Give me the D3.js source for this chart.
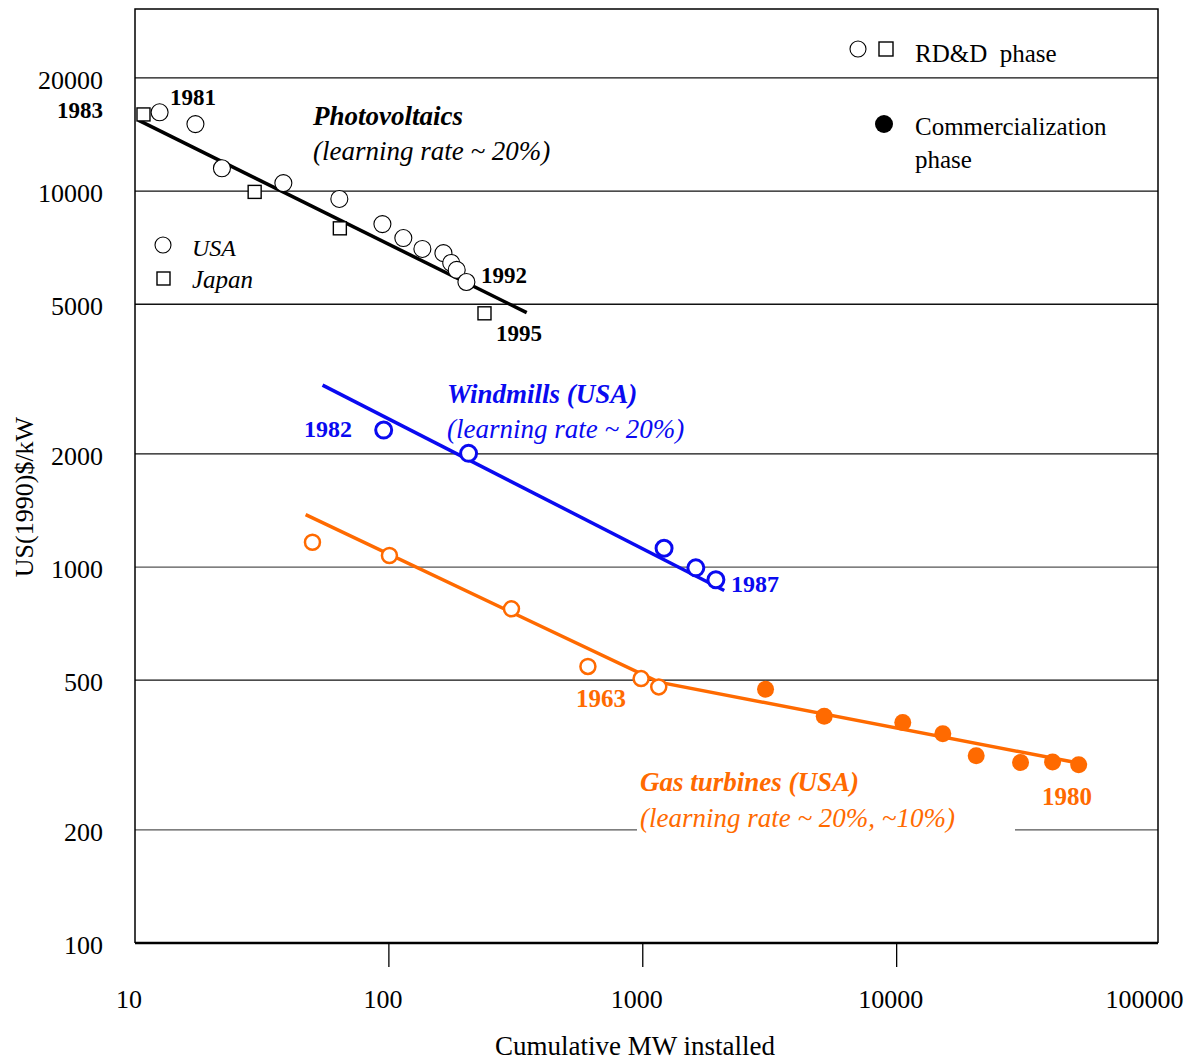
<!DOCTYPE html>
<html>
<head>
<meta charset="utf-8">
<script src="https://cdn.jsdelivr.net/npm/d3@7"></script>
<style>
  body { margin: 0; background: #fff; }
  text { font-family: "Liberation Serif", "Times New Roman", serif; }
</style>
</head>
<body>
<div id="chart"></div>
<script>
// Learning curves: cost per kW vs cumulative installed capacity (log-log)

// axis ticks
var xTicks = [10, 100, 1000, 10000, 100000];
var yTicks = [100, 200, 500, 1000, 2000, 5000, 10000, 20000];

// Photovoltaics, USA (open circles) and Japan (open squares)
var pvUsaMW   = [12.5, 17.3, 22.0, 38.4, 63.8, 94.3, 114, 135.5, 164, 176, 185, 202];
var pvUsaCost = [16200, 15070, 11500, 10500, 9530, 8170, 7500, 7015, 6840, 6440, 6170, 5730];
var pvJapanMW   = [10.8, 29.6, 64.1, 238];
var pvJapanCost = [15990, 9950, 7960, 4730];
var pvFitMW   = [10.3, 349];
var pvFitCost = [15440, 4750];

// Windmills (USA)
var windMW   = [95.4, 206, 1213, 1618, 1941];
var windCost = [2314, 2006, 1122, 995, 925];
var windFitMW   = [54.8, 2093];
var windFitCost = [3048, 866];

// Gas turbines (USA): RD&D phase (open) then commercialization (filled)
var gasRddMW   = [50, 100.5, 304, 608, 985, 1156];
var gasRddCost = [1164, 1073, 774, 544, 505, 480];
var gasComMW   = [3045, 5185, 10570, 15200, 20570, 30760, 41130, 52120];
var gasComCost = [473, 401, 386, 360, 315, 302, 303, 298];
var gasFitMW   = [47, 1156, 52000];
var gasFitCost = [1379, 494, 301];

var blue = "#0a0af0", orange = "#ff6a00";

var W = 1187, H = 1060;
var plotL = 135, plotR = 1158, plotT = 9, plotB = 943;

var svg = d3.select("#chart").append("svg")
    .attr("width", W)
    .attr("height", H);

var x = d3.scaleLog().domain([10, 107000]).range([plotL, plotR]);
var y = d3.scaleLog().domain([100, 30500]).range([plotB, plotT]);

function zip(a, b){ return a.map(function(d, i){ return [d, b[i]]; }); }

// gridlines
svg.append("g").selectAll("line")
    .data(yTicks.slice(1))
    .enter().append("line")
    .attr("x1", plotL).attr("x2", plotR)
    .attr("y1", function(d){ return y(d); })
    .attr("y2", function(d){ return y(d); })
    .attr("stroke", function(d){ return (d == 1000 || d == 200) ? "#555" : "#111"; })
    .attr("stroke-width", 1.3);

// frame
svg.append("path")
    .attr("d", "M" + plotL + "," + plotB + "V" + plotT + "H" + plotR + "V" + plotB)
    .attr("fill", "none")
    .attr("stroke", "#000")
    .attr("stroke-width", 1.5);
svg.append("line")
    .attr("x1", plotL).attr("x2", plotR)
    .attr("y1", plotB).attr("y2", plotB)
    .attr("stroke", "#000").attr("stroke-width", 2.5);

// y labels
svg.append("g").selectAll("text")
    .data(yTicks)
    .enter().append("text")
    .attr("x", 103)
    .attr("y", function(d){ return y(d) + 11; })
    .attr("text-anchor", "end")
    .attr("font-size", "26px")
    .text(function(d){ return d; });

// x ticks + labels
svg.append("g").selectAll("line")
    .data(xTicks.slice(1, 4))
    .enter().append("line")
    .attr("x1", function(d){ return x(d); })
    .attr("x2", function(d){ return x(d); })
    .attr("y1", plotB).attr("y2", plotB + 24)
    .attr("stroke", "#000").attr("stroke-width", 1.3);

svg.append("g").selectAll("text")
    .data(xTicks)
    .enter().append("text")
    .attr("x", function(d){ return x(d) - 6; })
    .attr("y", 1008)
    .attr("text-anchor", "middle")
    .attr("font-size", "26px")
    .text(function(d){ return d; });

svg.append("text")
    .attr("x", 635).attr("y", 1055)
    .attr("text-anchor", "middle")
    .attr("font-size", "27px")
    .text("Cumulative MW installed");

svg.append("text")
    .attr("transform", "translate(33,497) rotate(-90)")
    .attr("text-anchor", "middle")
    .attr("font-size", "26px")
    .text("US(1990)$/kW");

var line = d3.line()
    .x(function(d){ return x(d[0]); })
    .y(function(d){ return y(d[1]); });

// white gap behind gas turbine subtitle
svg.append("rect")
    .attr("x", 637).attr("y", 808)
    .attr("width", 378).attr("height", 28)
    .attr("fill", "#fff");

function label(txt, px, py, opts){
    opts = opts || {};
    return svg.append("text")
        .attr("x", px).attr("y", py)
        .attr("font-size", opts.size || "24px")
        .attr("font-weight", opts.weight || "normal")
        .attr("font-style", opts.style || "normal")
        .attr("text-anchor", opts.anchor || "start")
        .attr("fill", opts.color || "#000")
        .text(txt);
}

// ---------- Photovoltaics ----------
svg.append("path")
    .datum(zip(pvFitMW, pvFitCost))
    .attr("d", line)
    .attr("fill", "none")
    .attr("stroke", "#000")
    .attr("stroke-width", 3.5);

svg.append("g").selectAll("circle")
    .data(zip(pvUsaMW, pvUsaCost))
    .enter().append("circle")
    .attr("cx", function(d){ return x(d[0]); })
    .attr("cy", function(d){ return y(d[1]); })
    .attr("r", 8.5)
    .attr("fill", "#fff")
    .attr("stroke", "#000")
    .attr("stroke-width", 1.1);

svg.append("g").selectAll("rect")
    .data(zip(pvJapanMW, pvJapanCost))
    .enter().append("rect")
    .attr("x", function(d){ return x(d[0]) - 6.5; })
    .attr("y", function(d){ return y(d[1]) - 6.5; })
    .attr("width", 13).attr("height", 13)
    .attr("fill", "#fff")
    .attr("stroke", "#000")
    .attr("stroke-width", 1.4);

label("1981", 170, 105, {weight: "bold", size: "23px"});
label("1983", 103, 118, {weight: "bold", size: "23px", anchor: "end"});
label("1992", 481, 283, {weight: "bold", size: "23px"});
label("1995", 496, 341, {weight: "bold", size: "23px"});
label("Photovoltaics", 313, 125, {weight: "bold", style: "italic", size: "27px"});
label("(learning rate ~ 20%)", 313, 160, {style: "italic", size: "27px"});

// USA / Japan legend
svg.append("circle").attr("cx", 163).attr("cy", 245).attr("r", 8)
    .attr("fill", "#fff").attr("stroke", "#000").attr("stroke-width", 1.1);
svg.append("rect").attr("x", 157).attr("y", 272).attr("width", 13).attr("height", 13)
    .attr("fill", "#fff").attr("stroke", "#000").attr("stroke-width", 1.4);
label("USA", 192, 256, {style: "italic", size: "24px"});
label("Japan", 192, 288, {style: "italic", size: "25px"});

// phase legend
svg.append("circle").attr("cx", 858).attr("cy", 49).attr("r", 8)
    .attr("fill", "#fff").attr("stroke", "#000").attr("stroke-width", 1.1);
svg.append("rect").attr("x", 879).attr("y", 42).attr("width", 14).attr("height", 14)
    .attr("fill", "#fff").attr("stroke", "#000").attr("stroke-width", 1.4);
svg.append("circle").attr("cx", 884).attr("cy", 124).attr("r", 9)
    .attr("fill", "#000");
label("RD&D  phase", 915, 62, {size: "25px"}).style("white-space", "pre");
label("Commercialization", 915, 135, {size: "25px"});
label("phase", 915, 168, {size: "25px"});

// ---------- Windmills ----------
svg.append("path")
    .datum(zip(windFitMW, windFitCost))
    .attr("d", line)
    .attr("fill", "none")
    .attr("stroke", blue)
    .attr("stroke-width", 3.5);

svg.append("g").selectAll("circle")
    .data(zip(windMW, windCost))
    .enter().append("circle")
    .attr("cx", function(d){ return x(d[0]); })
    .attr("cy", function(d){ return y(d[1]); })
    .attr("r", 8)
    .attr("fill", "#fff")
    .attr("stroke", blue)
    .attr("stroke-width", 3);

label("1982", 304, 437, {weight: "bold", color: blue});
label("1987", 731, 592, {weight: "bold", color: blue});
label("Windmills (USA)", 447, 403, {weight: "bold", style: "italic", size: "27px", color: blue});
label("(learning rate ~ 20%)", 447, 438, {style: "italic", size: "27px", color: blue});

// ---------- Gas turbines ----------
svg.append("path")
    .datum(zip(gasFitMW, gasFitCost))
    .attr("d", line)
    .attr("fill", "none")
    .attr("stroke", orange)
    .attr("stroke-width", 3.5);

svg.append("g").selectAll("circle")
    .data(zip(gasRddMW, gasRddCost))
    .enter().append("circle")
    .attr("cx", function(d){ return x(d[0]); })
    .attr("cy", function(d){ return y(d[1]); })
    .attr("r", 7.5)
    .attr("fill", "#fff")
    .attr("stroke", orange)
    .attr("stroke-width", 2.5);

svg.append("g").selectAll("circle")
    .data(zip(gasComMW, gasComCost))
    .enter().append("circle")
    .attr("cx", function(d){ return x(d[0]); })
    .attr("cy", function(d){ return y(d[1]); })
    .attr("r", 8.5)
    .attr("fill", orange);

label("1963", 576, 707, {weight: "bold", size: "25px", color: orange});
label("1980", 1042, 805, {weight: "bold", size: "25px", color: orange});
label("Gas turbines (USA)", 640, 791, {weight: "bold", style: "italic", size: "27px", color: orange});
label("(learning rate ~ 20%, ~10%)", 640, 827, {style: "italic", size: "27px", color: orange});
</script>
</body>
</html>
